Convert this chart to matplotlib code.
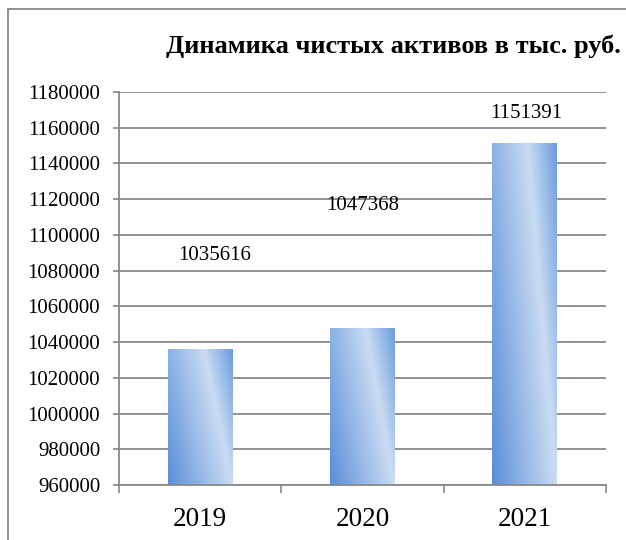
import numpy as np
import matplotlib.pyplot as plt
from matplotlib.lines import Line2D
from matplotlib.colors import to_rgb

# Data
years = ['2019', '2020', '2021']
net_assets = [1035616, 1047368, 1151391]
# where Excel put the value labels (data units)
label_y = [1088750, 1116700, 1167900]
label_dx = [0.09, 0.0, 0.01]
y_ticks = list(range(960000, 1180001, 20000))

plt.rcParams['font.family'] = ['Liberation Serif', 'DejaVu Serif']

fig = plt.figure(figsize=(6.26, 5.4), dpi=100)
ax = fig.add_axes([119 / 626, 1 - 485 / 540, (606 - 119) / 626, (485 - 92) / 540])

grid_col = '#888888'
dark = np.array(to_rgb('#5A8ED8'))
light = np.array(to_rgb('#CADCF3'))
edge = np.array(to_rgb('#6C9CDE'))

def gradient_image(h=200, w=60):
    u = np.linspace(0, 1, w)[None, :]
    v = np.linspace(1, 0, h)[:, None]  # row 0 = top
    k = 0.45
    t = (u + k * v) / (1 + k)
    t0 = 1 / (1 + k)
    img = np.zeros((h, w, 3))
    left = t <= t0
    a = np.where(left, t / t0, (t - t0) / (1 - t0))
    for c in range(3):
        img[..., c] = np.where(left,
                               dark[c] + (light[c] - dark[c]) * a,
                               light[c] + (edge[c] - light[c]) * a)
    return img

x = np.arange(len(years)) + 0.5
width = 0.40
img = gradient_image()
for xi, val in zip(x, net_assets):
    ax.imshow(img, extent=(xi - width / 2, xi + width / 2, 960000, val),
              aspect='auto', zorder=2, interpolation='bilinear')

for xi, val, ly, dx in zip(x, net_assets, label_y, label_dx):
    ax.text(xi + dx, ly, str(val), ha='center', va='center', fontsize=15, zorder=3)

ax.set_xlim(0, 3)
ax.set_ylim(960000, 1180000)
ax.set_yticks(y_ticks)
ax.set_yticklabels([str(v) for v in y_ticks], fontsize=15)
ax.set_xticks(x)
ax.set_xticklabels(years, fontsize=19.5)
ax.set_xticks([0, 1, 2, 3], minor=True)
ax.tick_params(axis='x', which='major', length=0, pad=16)
ax.tick_params(axis='x', which='minor', length=6, width=1.2, color=grid_col)
ax.tick_params(axis='y', length=4.5, width=1.2, color=grid_col, pad=9)

ax.grid(axis='y', color=grid_col, linewidth=1.3)
ax.set_axisbelow(True)
for s in ['top', 'right']:
    ax.spines[s].set_visible(False)
for s in ['left', 'bottom']:
    ax.spines[s].set_color(grid_col)
    ax.spines[s].set_linewidth(1.3)

fig.text(393 / 626, 1 - 53 / 540, 'Динамика чистых активов в тыс. руб.',
         ha='center', va='baseline', fontsize=19, fontweight='bold')

# outer chart frame (left and top edges visible)
fig.add_artist(Line2D([8 / 626, 8 / 626], [0, 1 - 9 / 540], color=grid_col, linewidth=1.3))
fig.add_artist(Line2D([8 / 626, 1], [1 - 9 / 540, 1 - 9 / 540], color=grid_col, linewidth=1.3))

fig.savefig('out.png', dpi=100)
